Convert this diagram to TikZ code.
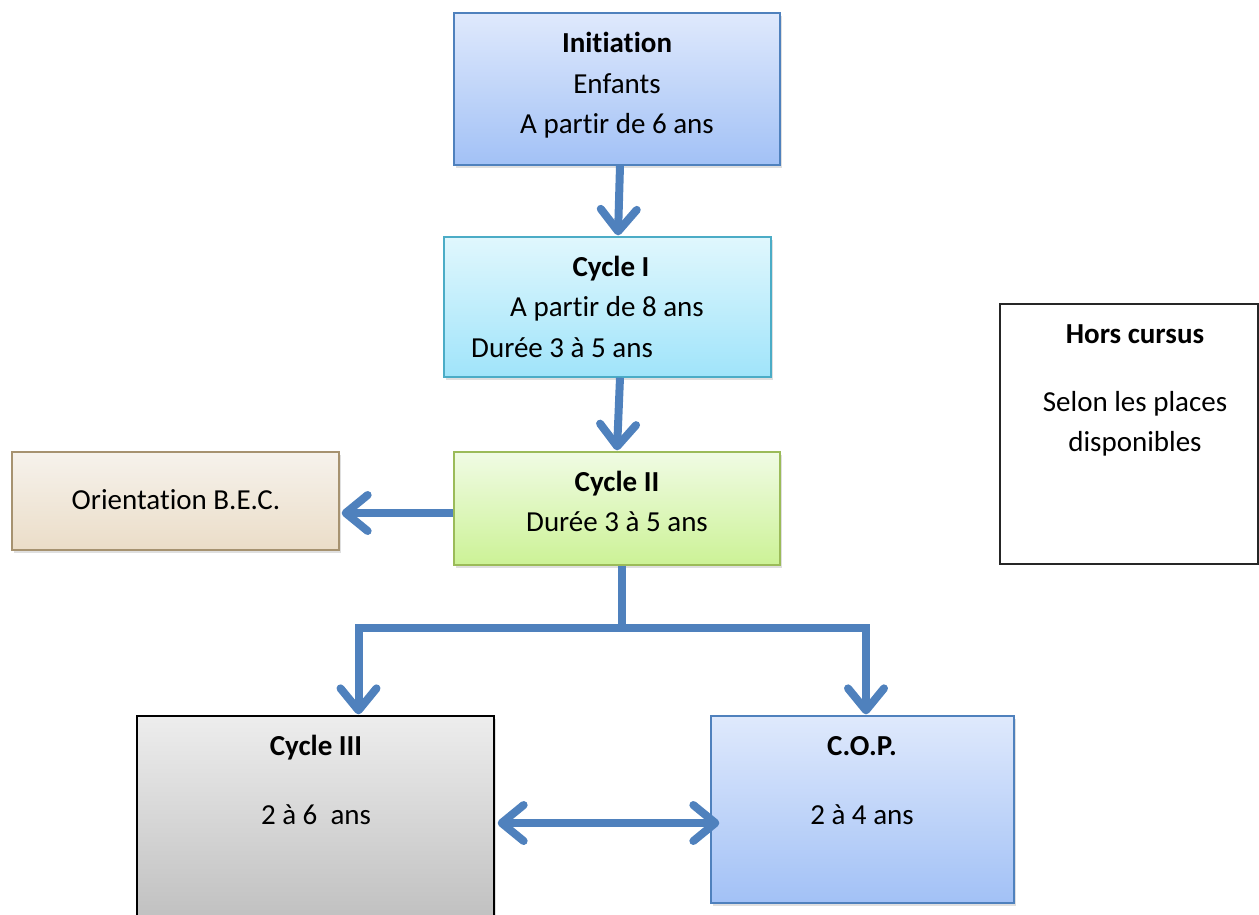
\documentclass[tikz,border=0pt]{standalone}
\usepackage{fontspec}
\setmainfont{Carlito}[Ligatures=NoCommon]
\usetikzlibrary{arrows.meta,calc,shadows}
\definecolor{arrowblue}{RGB}{79,129,189}
\definecolor{initTop}{RGB}{223,233,252}
\definecolor{initBot}{RGB}{162,193,246}
\definecolor{initLine}{RGB}{79,129,189}
\definecolor{cyTop}{RGB}{224,247,253}
\definecolor{cyBot}{RGB}{160,228,250}
\definecolor{cyLine}{RGB}{75,172,198}
\definecolor{grTop}{RGB}{240,251,228}
\definecolor{grBot}{RGB}{204,242,150}
\definecolor{grLine}{RGB}{155,187,89}
\definecolor{tanTop}{RGB}{246,242,236}
\definecolor{tanBot}{RGB}{235,221,200}
\definecolor{tanLine}{RGB}{166,146,112}
\definecolor{gyTop}{RGB}{237,237,237}
\definecolor{gyBot}{RGB}{190,190,190}
\begin{document}
\begin{tikzpicture}[x=1pt,y=-1pt,
  box/.style={draw, line width=1.3pt, inner sep=0pt,
    drop shadow={opacity=0.25,shadow xshift=2pt,shadow yshift=-3pt}},
  plainbox/.style={draw, line width=1.1pt, inner sep=0pt},
  txt/.style={font=\fontsize{29}{34}\selectfont, inner sep=0pt, anchor=base},
  btxt/.style={font=\fontsize{29}{34}\selectfont\bfseries, inner sep=0pt, anchor=base},
  barb/.tip={Straight Barb[length=22pt,width=36pt,round]},
  flow/.style={draw=arrowblue, line width=8pt, -barb},
  trunk/.style={draw=arrowblue, line width=8pt},
  twoway/.style={draw=arrowblue, line width=8pt, barb-barb},
]
\useasboundingbox (0,0) rectangle (1259,914);

% boxes
\node[box, draw=initLine, top color=initTop, bottom color=initBot,
  minimum width=326pt, minimum height=152pt] (init) at (617,89) {};
\node[box, draw=cyLine, top color=cyTop, bottom color=cyBot,
  minimum width=327pt, minimum height=140pt] (c1) at (607.5,307) {};
\node[box, draw=grLine, top color=grTop, bottom color=grBot,
  minimum width=326pt, minimum height=113pt] (c2) at (617,508.5) {};
\node[box, draw=tanLine, top color=tanTop, bottom color=tanBot,
  minimum width=327pt, minimum height=98pt] (bec) at (175.5,501) {};
\node[plainbox, draw=black!85, fill=white,
  minimum width=258pt, minimum height=260pt] (hors) at (1129,434) {};
\node[box, draw=black, top color=gyTop, bottom color=gyBot,
  minimum width=357pt, minimum height=214pt] (c3) at (315.5,823) {};
\node[box, draw=initLine, top color=initTop, bottom color=initBot,
  minimum width=303pt, minimum height=187pt] (cop) at (862.5,809.5) {};

% texts
\node[btxt] (tInit) at (617,52) {Initiation};
\node[txt] (tInit2) at (617,93) {Enfants};
\node[txt] (tInit3) at (617,133) {A partir de 6 ans};

\node[btxt] (tC1) at (611,276) {Cycle I};
\node[txt] (tC1b) at (607,316) {A partir de 8 ans};
\node[txt, anchor=base west] (tC1c) at (471,357) {Durée 3 à 5 ans};

\node[btxt] (tC2) at (617,491) {Cycle II};
\node[txt] (tC2b) at (617,531) {Durée 3 à 5 ans};

\node[txt] (tBec) at (176,509) {Orientation B.E.C.};

\node[btxt] (tHors) at (1135,343) {Hors cursus};
\node[txt] (tHors2) at (1135,411) {Selon les places};
\node[txt] (tHors3) at (1135,451) {disponibles};

\node[btxt] (tC3) at (316,755) {Cycle III};
\node[txt] (tC3b) at (316,824) {2 à 6\ \ ans};

\node[btxt] (tCop) at (862,755) {C.O.P.};
\node[txt] (tCopb) at (862,824) {2 à 4 ans};

% connectors
\coordinate (split) at (622,628);
\draw[flow] ($(init.south)+(3,0)$) -- ($(c1.north)+(10.5,-1)$);
\draw[flow] ($(c1.south)+(12.5,0)$) -- ($(c2.north)+(0,-1)$);
\draw[flow] ($(c2.west)+(0,4.5)$) -- ($(bec.east)+(2,12)$);
\draw[trunk] ($(c2.south)+(5,0)$) -- (split);
\draw[flow] (split) -| ($(c3.north)+(43,-1)$);
\draw[flow] (split) -| ($(cop.north)+(3.5,-1)$);
\draw[twoway] ($(c3.east)+(3,0)$) -- ($(cop.west)+(9,13.5)$);
\end{tikzpicture}
\end{document}
